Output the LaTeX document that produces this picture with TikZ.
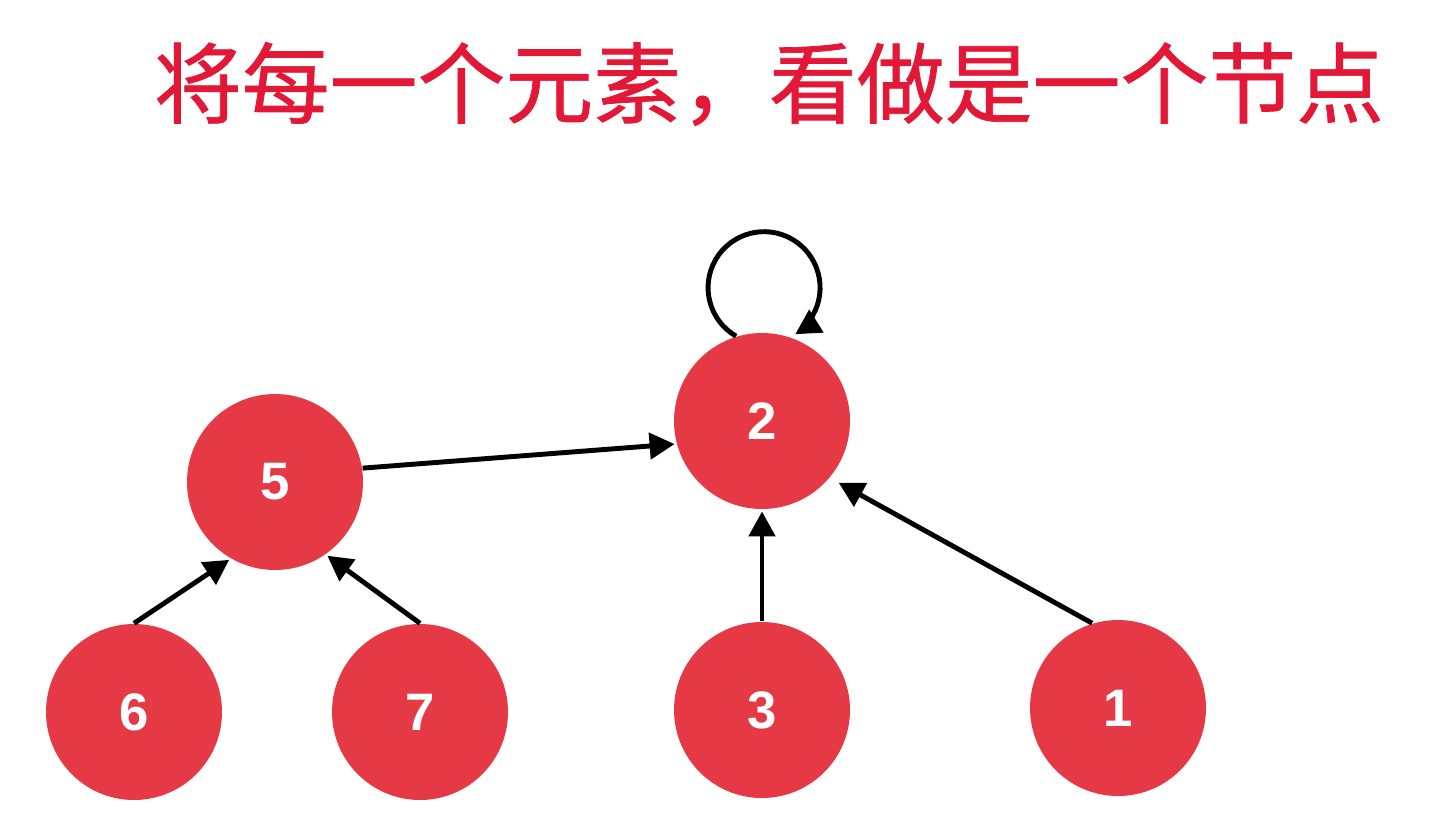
\documentclass[tikz,border=0pt]{standalone}
\usepackage{fontspec}
\setmainfont{Liberation Sans}
\newfontfamily\cjk[FakeBold=0.8]{Noto Sans CJK SC}
\usetikzlibrary{arrows.meta}

\definecolor{cor_bola}{RGB}{230,57,70}
\definecolor{cor_titulo}{RGB}{226,24,54}

\begin{document}
\begin{tikzpicture}
        \tikzset{
            bola/.style={
                circle,
                fill=cor_bola,
                text=white,
                inner sep=0pt,
                minimum size=1.76cm,
                font=\fontsize{15}{18}\selectfont\bfseries
            },
            seta/.style={
                black,
                line width=1.4pt,
                -{Triangle[length=0.25cm, width=0.26cm]},
                shorten >=0.5pt
            }
        }
        \useasboundingbox (0,0) rectangle (14.36,8.22);

        %titulo
        \node[text=cor_titulo, font=\cjk\fontsize{25}{30}\selectfont] (titulo) at (7.69,7.38) {将每一个元素，看做是一个节点};

        %nos
        \node[bola] (n2) at (7.62,4.01) {2};
        \node[bola] (n5) at (2.75,3.40) {5};
        \node[bola] (n6) at (1.34,1.10) {6};
        \node[bola] (n7) at (4.20,1.10) {7};
        \node[bola] (n3) at (7.62,1.12) {3};
        \node[bola] (n1) at (11.18,1.14) {1};

        %setas
        \draw[seta] (n5.9) -- (n2.195);
        \draw[seta] (n6.north) -- (n5.240);
        \draw[seta] (n7.north) -- (n5.305);
        \draw[seta] (n3.north) -- (n2.south);
        \draw[seta, shorten >=0.1cm] (n1.107) -- (n2.320);
        \draw[seta] (n2.107) arc[start angle=240, end angle=-58, radius=0.56];

    \end{tikzpicture}
\end{document}
